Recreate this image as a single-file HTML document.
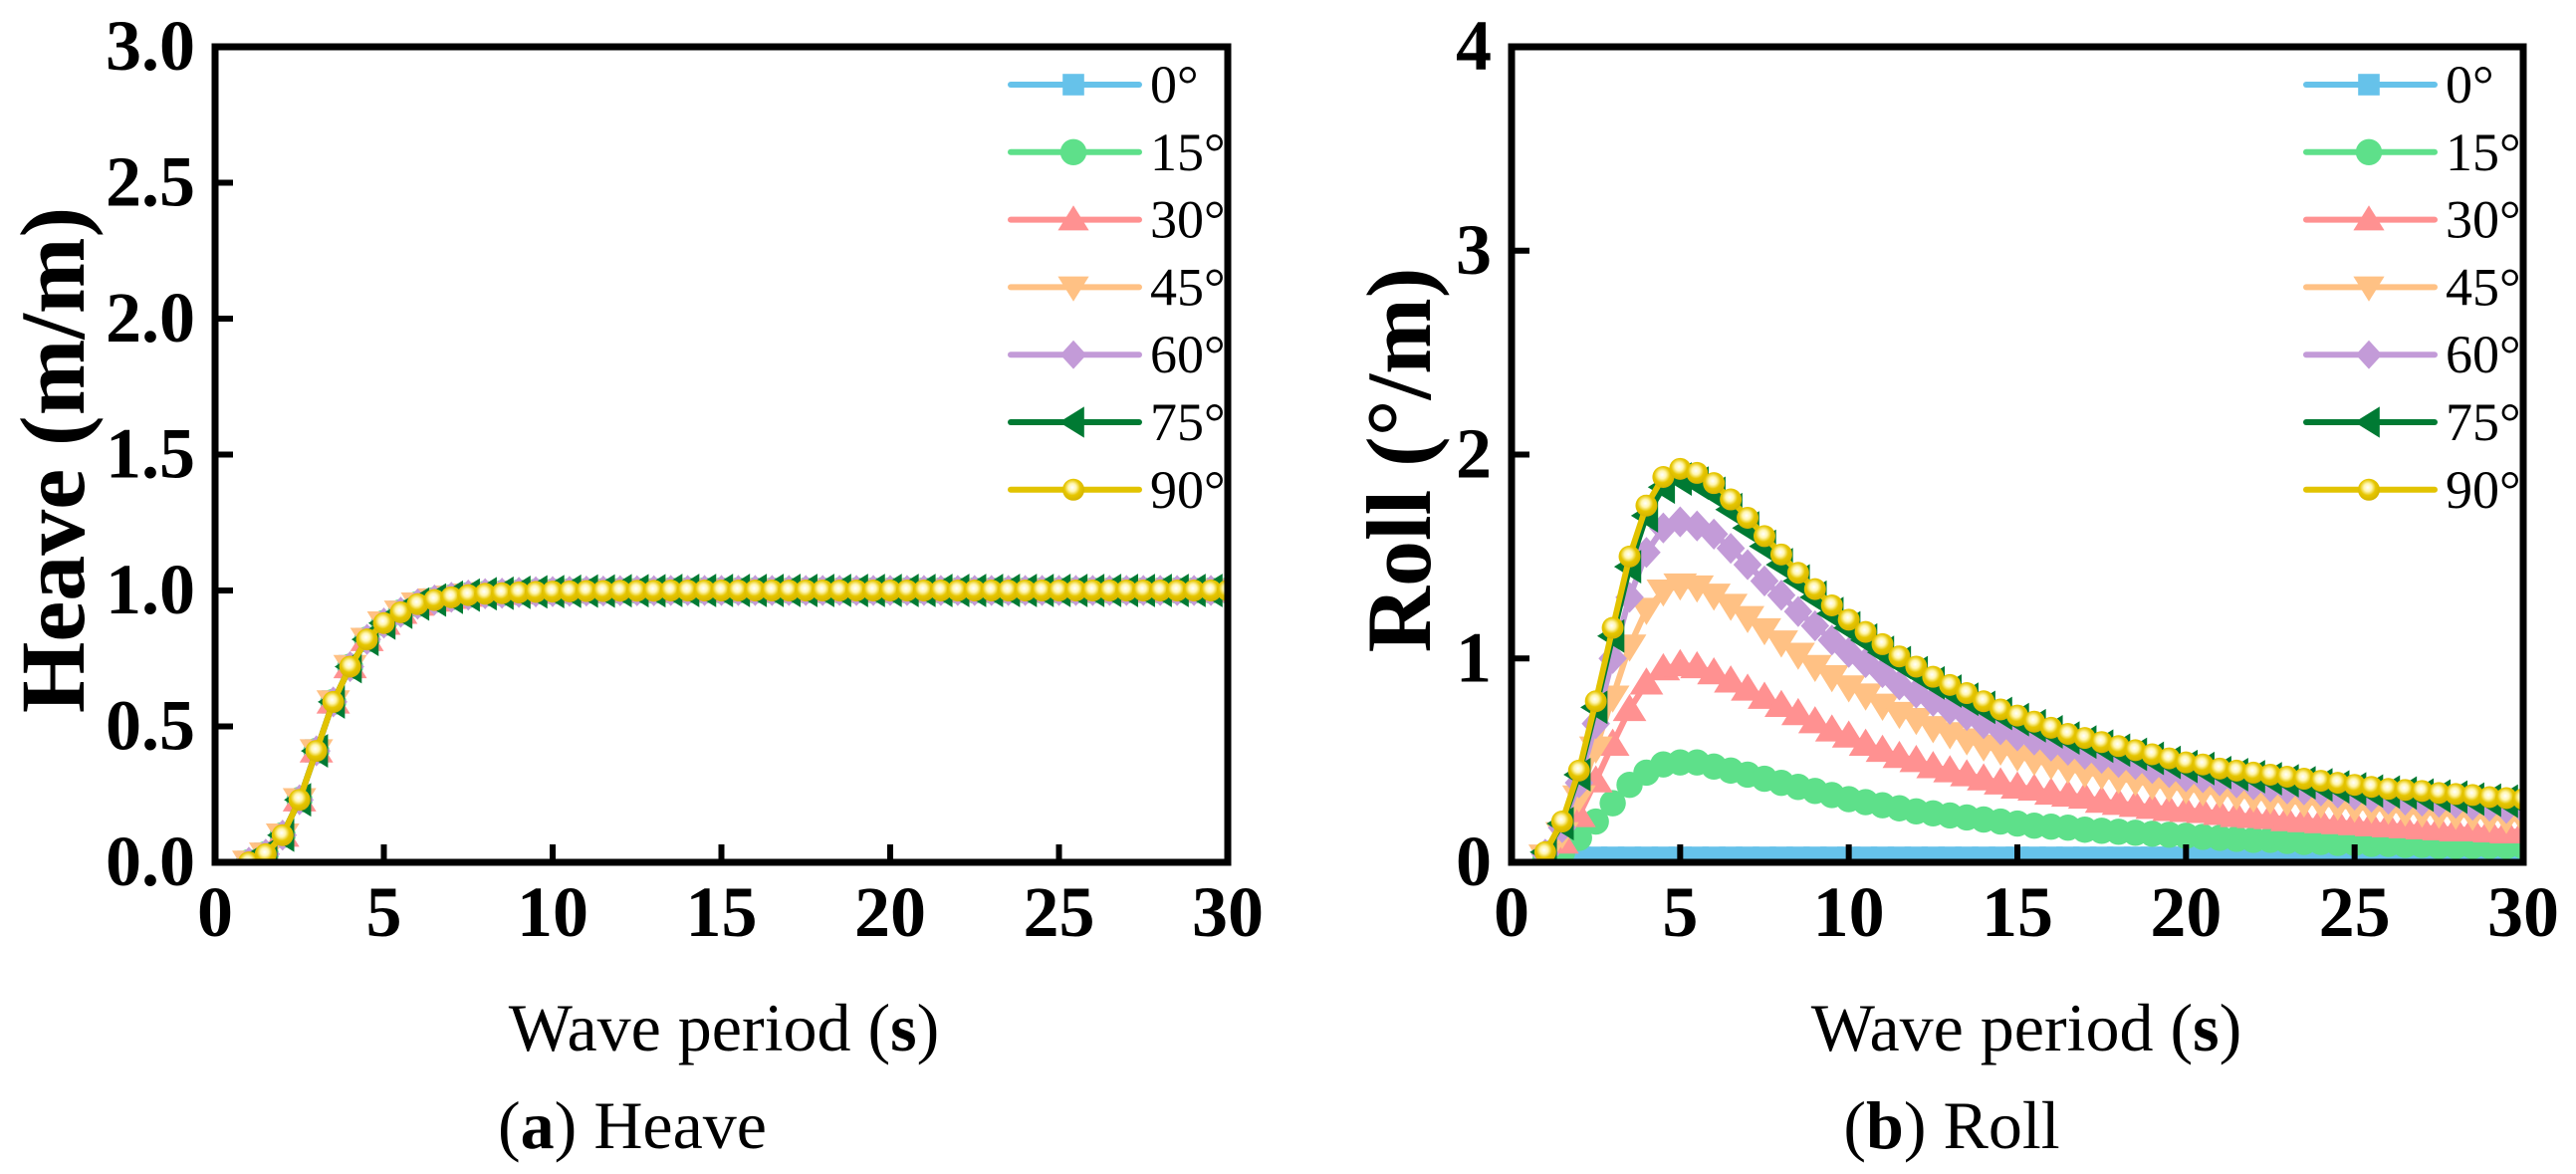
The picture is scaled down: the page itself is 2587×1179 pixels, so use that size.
<!DOCTYPE html>
<html><head><meta charset="utf-8"><style>
html,body{margin:0;padding:0;background:#fff;}
svg{display:block;}
text{font-family:"Liberation Serif",serif;}
</style></head><body>
<svg id="chart" width="2587" height="1179" viewBox="0 0 2587 1179" xmlns="http://www.w3.org/2000/svg">
<defs>
<radialGradient id="ballGrad" cx="0.45" cy="0.4" r="0.6">
<stop offset="0" stop-color="#ffffff"/><stop offset="0.3" stop-color="#fff6b0"/><stop offset="0.6" stop-color="#e6c600"/><stop offset="1" stop-color="#d4b400"/>
</radialGradient>
</defs>
<g id="panelA"></g>
<g id="panelB"></g>
</svg>
<script>
const periods = [1,1.5,2,2.5,3,3.5,4,4.5,5,5.5,6,6.5,7,7.5,8,8.5,9,9.5,10,10.5,11,11.5,12,12.5,13,13.5,14,14.5,15,15.5,16,16.5,17,17.5,18,18.5,19,19.5,20,20.5,21,21.5,22,22.5,23,23.5,24,24.5,25,25.5,26,26.5,27,27.5,28,28.5,29,29.5,30];
const seriesNames = ["0°","15°","30°","45°","60°","75°","90°"];
const heaveAll = [0.0,0.03,0.10,0.23,0.41,0.59,0.72,0.82,0.88,0.92,0.95,0.965,0.975,0.983,0.988,0.99,0.993,0.995,0.996,0.997,0.998,0.998,0.999,0.999,0.999,1,1,1,1,1,1,1,1,1,1,1,1,1,1,1,1,1,1,1,1,1,1,1,1,1,1,1,1,1,1,1,1,1,1];
const roll0 = [0.02,0.02,0.02,0.02,0.02,0.02,0.02,0.02,0.02,0.02,0.02,0.02,0.02,0.02,0.02,0.02,0.02,0.02,0.02,0.02,0.02,0.02,0.02,0.02,0.02,0.02,0.02,0.02,0.02,0.02,0.02,0.02,0.02,0.02,0.02,0.02,0.02,0.02,0.02,0.02,0.02,0.02,0.02,0.02,0.02,0.02,0.02,0.02,0.02,0.02,0.02,0.02,0.02,0.02,0.02,0.02,0.02,0.02,0.02];
const roll15 = [0.01,0.05,0.12,0.20,0.29,0.38,0.44,0.48,0.49,0.49,0.47,0.45,0.43,0.41,0.39,0.37,0.35,0.33,0.31,0.295,0.28,0.265,0.25,0.24,0.23,0.22,0.21,0.20,0.19,0.18,0.175,0.17,0.16,0.155,0.15,0.145,0.14,0.135,0.13,0.125,0.12,0.115,0.11,0.11,0.105,0.10,0.10,0.095,0.095,0.09,0.09,0.085,0.085,0.08,0.08,0.08,0.08,0.08,0.08];
const roll30 = [0.02,0.10,0.23,0.40,0.58,0.75,0.88,0.95,0.97,0.96,0.93,0.89,0.85,0.81,0.77,0.73,0.69,0.65,0.62,0.58,0.55,0.52,0.50,0.47,0.45,0.43,0.41,0.39,0.37,0.36,0.34,0.33,0.32,0.30,0.29,0.28,0.27,0.26,0.255,0.25,0.24,0.23,0.225,0.22,0.21,0.205,0.20,0.195,0.19,0.185,0.18,0.175,0.17,0.165,0.16,0.16,0.155,0.15,0.15];
const roll45 = [0.03,0.14,0.32,0.56,0.81,1.06,1.24,1.33,1.36,1.35,1.31,1.26,1.20,1.14,1.08,1.02,0.96,0.91,0.86,0.82,0.77,0.73,0.70,0.66,0.63,0.60,0.57,0.55,0.52,0.50,0.48,0.46,0.44,0.43,0.41,0.40,0.38,0.37,0.36,0.35,0.34,0.33,0.32,0.31,0.30,0.295,0.29,0.28,0.27,0.265,0.26,0.25,0.245,0.24,0.235,0.23,0.22,0.215,0.21];
const roll60 = [0.04,0.17,0.39,0.68,1.00,1.30,1.52,1.64,1.67,1.65,1.61,1.54,1.46,1.38,1.31,1.23,1.16,1.09,1.03,0.98,0.93,0.87,0.83,0.79,0.75,0.72,0.68,0.65,0.62,0.60,0.57,0.55,0.53,0.51,0.49,0.48,0.46,0.44,0.42,0.415,0.40,0.39,0.38,0.37,0.36,0.355,0.35,0.34,0.33,0.32,0.31,0.305,0.30,0.295,0.29,0.28,0.275,0.265,0.26];
const roll75 = [0.05,0.19,0.43,0.76,1.11,1.45,1.70,1.84,1.88,1.86,1.81,1.73,1.64,1.55,1.46,1.38,1.30,1.22,1.15,1.09,1.03,0.98,0.93,0.88,0.84,0.80,0.76,0.73,0.70,0.67,0.64,0.61,0.59,0.57,0.55,0.53,0.51,0.49,0.47,0.46,0.44,0.43,0.42,0.41,0.40,0.39,0.38,0.37,0.36,0.35,0.345,0.34,0.33,0.325,0.32,0.31,0.305,0.30,0.29];
const roll90 = [0.05,0.20,0.45,0.79,1.15,1.50,1.75,1.89,1.93,1.91,1.86,1.78,1.69,1.60,1.51,1.42,1.34,1.26,1.19,1.13,1.07,1.01,0.96,0.91,0.87,0.83,0.79,0.75,0.72,0.69,0.66,0.63,0.61,0.59,0.57,0.55,0.53,0.51,0.49,0.48,0.46,0.45,0.44,0.43,0.42,0.41,0.40,0.39,0.38,0.37,0.36,0.355,0.35,0.34,0.335,0.33,0.32,0.315,0.31];
const xTicks = [0,5,10,15,20,25,30];
const heaveTicks = [0,0.5,1.0,1.5,2.0,2.5,3.0];
const heaveTickLabels = ["0.0","0.5","1.0","1.5","2.0","2.5","3.0"];
const rollTicks = [0,1,2,3,4];
const rollTickLabels = ["0","1","2","3","4"];

const NS = "http://www.w3.org/2000/svg";
const FONT = "Liberation Serif, serif";
const colors = ["#66c2ea","#5ee08a","#ff9191","#ffc184","#c39bd8","#007a33","#e2c300"];
const shapes = ["square","circle","up","down","diamond","left","ball"];

function mk(tag, attrs, parent){ const e=document.createElementNS(NS,tag); for(const k in attrs) e.setAttribute(k,attrs[k]); parent.appendChild(e); return e; }

function marker(g, shape, cx, cy, s, color){
  let e;
  if(shape==="square") e=mk("rect",{x:cx-s*0.45,y:cy-s*0.45,width:s*0.9,height:s*0.9,fill:color},g);
  else if(shape==="circle") e=mk("circle",{cx:cx,cy:cy,r:s*0.55,fill:color},g);
  else if(shape==="up") e=mk("polygon",{points:`${cx},${cy-s*0.6} ${cx-s*0.65},${cy+s*0.45} ${cx+s*0.65},${cy+s*0.45}`,fill:color},g);
  else if(shape==="down") e=mk("polygon",{points:`${cx},${cy+s*0.6} ${cx-s*0.65},${cy-s*0.45} ${cx+s*0.65},${cy-s*0.45}`,fill:color},g);
  else if(shape==="diamond") e=mk("polygon",{points:`${cx},${cy-s*0.6} ${cx+s*0.55},${cy} ${cx},${cy+s*0.6} ${cx-s*0.55},${cy}`,fill:color},g);
  else if(shape==="left") e=mk("polygon",{points:`${cx-s*0.6},${cy} ${cx+s*0.45},${cy-s*0.65} ${cx+s*0.45},${cy+s*0.65}`,fill:color},g);
  else e=mk("circle",{cx:cx,cy:cy,r:s*0.5,fill:"url(#ballGrad)"},g);
  
  
  return e;
}

function panel(g, cfg){
  const L=cfg.left, R=cfg.right, T=47, B=866;
  const xs = v => L + (v-0)/(30-0)*(R-L);
  const ys = v => B - (v-0)/(cfg.ymax)*(B-T);
  const clip = mk("clipPath",{id:cfg.id+"clip"},g);
  mk("rect",{x:L,y:T,width:R-L,height:B-T},clip);
  const sg = mk("g",{"clip-path":`url(#${cfg.id}clip)`},g);
  
  
  cfg.series.forEach((vals,si)=>{
    const grp = mk("g",{},sg);
    
    
    const pts = periods.map((p,i)=>xs(p)+","+ys(vals[i])).join(" ");
    const pl = mk("polyline",{points:pts,fill:"none",stroke:colors[si],"stroke-width":6,"stroke-linejoin":"round"},grp);
    
    
    const sz = shapes[si]==="circle"?24:(shapes[si]==="ball"?22:26);
    periods.forEach((p,i)=>marker(grp, shapes[si], xs(p), ys(vals[i]), sz, colors[si]));
  });
  const fr = mk("rect",{x:L,y:T,width:R-L,height:B-T,fill:"none",stroke:"#000","stroke-width":7},g);
  
  
  xTicks.forEach(v=>{
    const t=mk("line",{x1:xs(v),x2:xs(v),y1:B,y2:B-18,stroke:"#000","stroke-width":6},g);
    
    
    const tl=mk("text",{x:xs(v),y:940,"text-anchor":"middle","font-size":72,"font-weight":"bold","font-family":FONT},g);
    tl.textContent=v;
    
    
  });
  cfg.yticks.forEach((v,i)=>{
    const t=mk("line",{x1:L,x2:L+18,y1:ys(v),y2:ys(v),stroke:"#000","stroke-width":6},g);
    
    
    const tl=mk("text",{x:L-20,y:ys(v)+23,"text-anchor":"end","font-size":72,"font-weight":"bold","font-family":FONT},g);
    tl.textContent=cfg.ylabels[i];
    
    
  });
  const lg = mk("g",{},g);
  
  
  seriesNames.forEach((n,si)=>{
    const y = 85 + si*67.8;
    const x0 = R-218;
    const le = mk("g",{},lg);
    
    
    mk("line",{x1:x0,x2:x0+129,y1:y,y2:y,stroke:colors[si],"stroke-width":6,"stroke-linecap":"round"},le);
    marker(le, shapes[si], x0+63, y, shapes[si]==="ball"?22:24, colors[si]);
    const tx=mk("text",{x:x0+140,y:y+18,"font-size":54,"font-family":FONT},le);
    tx.textContent=n;
  });
}

panel(document.getElementById("panelA"),{id:"a",left:216,right:1233,ymax:3,yticks:heaveTicks,ylabels:heaveTickLabels,series:[heaveAll,heaveAll,heaveAll,heaveAll,heaveAll,heaveAll,heaveAll]});
panel(document.getElementById("panelB"),{id:"b",left:1518,right:2534,ymax:4,yticks:rollTicks,ylabels:rollTickLabels,series:[roll0,roll15,roll30,roll45,roll60,roll75,roll90]});
</script>
<svg style="position:absolute;left:0;top:0" width="2587" height="1179">
<text transform="translate(84,462) rotate(-90)" text-anchor="middle" font-size="92" font-weight="bold" font-family="Liberation Serif, serif">Heave (m/m)</text>
<text transform="translate(1436,462) rotate(-90)" text-anchor="middle" font-size="92" font-weight="bold" font-family="Liberation Serif, serif">Roll (°/m)</text>
<text x="727" y="1055" text-anchor="middle" font-size="68" font-family="Liberation Serif, serif">Wave period (<tspan font-weight="bold">s</tspan>)</text>
<text x="2035" y="1055" text-anchor="middle" font-size="68" font-family="Liberation Serif, serif">Wave period (<tspan font-weight="bold">s</tspan>)</text>
<text x="635" y="1153" text-anchor="middle" font-size="68" font-family="Liberation Serif, serif">(<tspan font-weight="bold">a</tspan>) Heave</text>
<text x="1960" y="1153" text-anchor="middle" font-size="68" font-family="Liberation Serif, serif">(<tspan font-weight="bold">b</tspan>) Roll</text>
</svg>
</body></html>
